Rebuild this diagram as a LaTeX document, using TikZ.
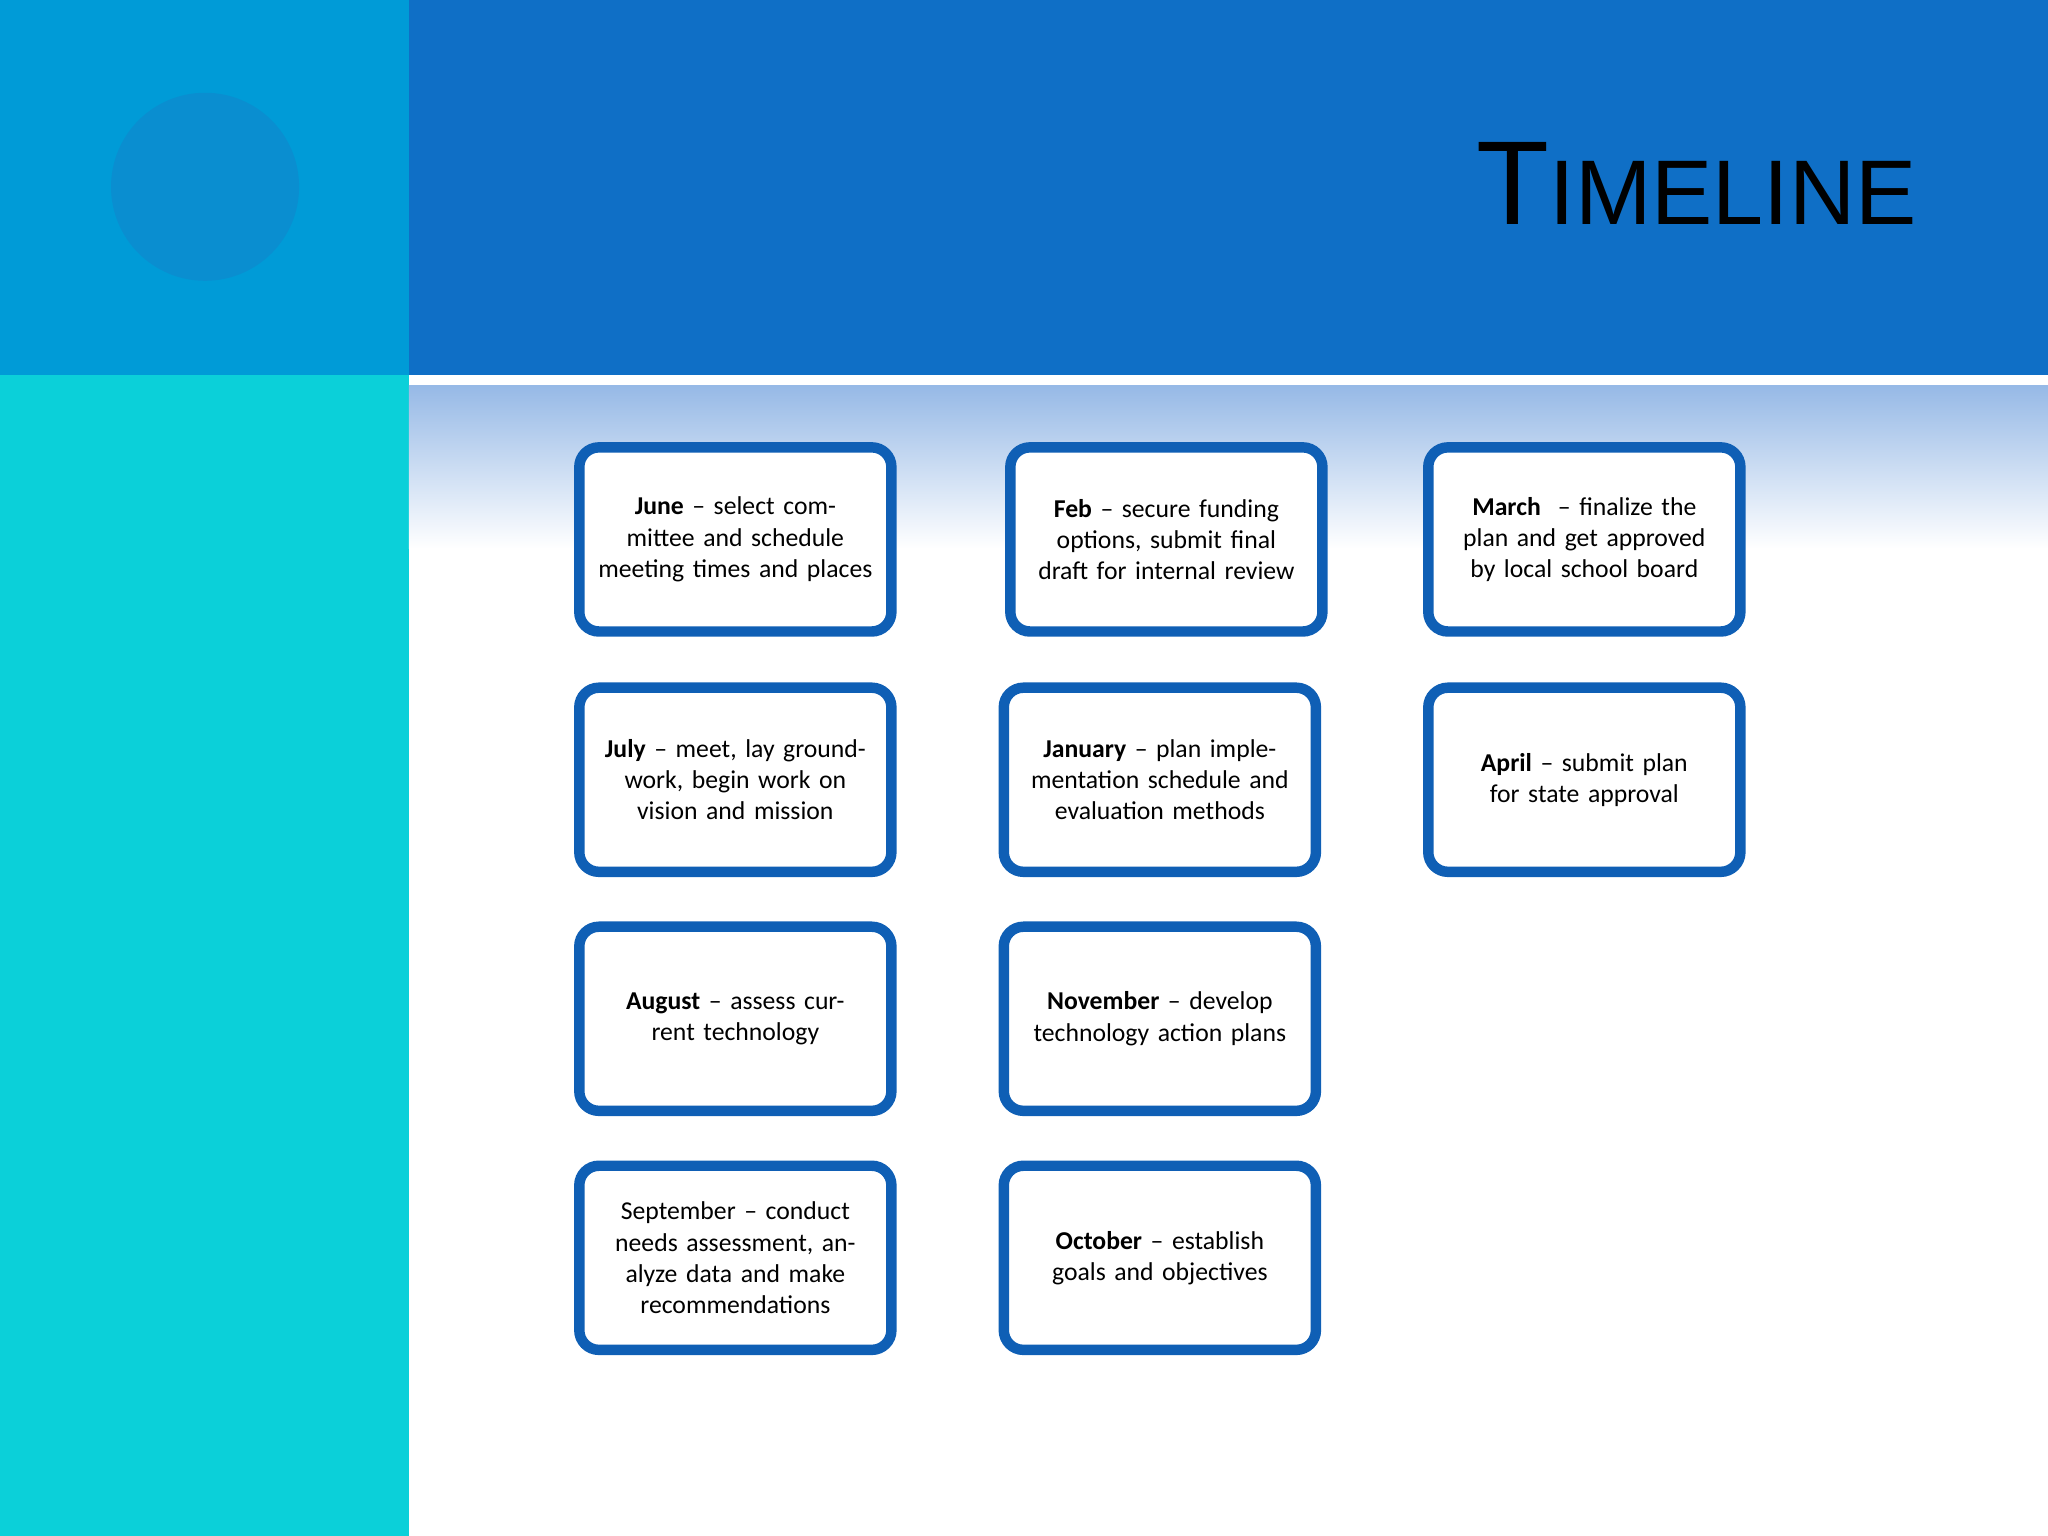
\documentclass[tikz,border=0pt]{standalone}
\usepackage{fontspec}
\setmainfont{Carlito}
\newfontfamily\titlefont{Liberation Sans}
\definecolor{leftA}{RGB}{0,155,215}
\definecolor{leftB}{RGB}{11,208,217}
\definecolor{topband}{RGB}{15,111,198}
\definecolor{circ}{RGB}{10,142,208}
\definecolor{boxline}{RGB}{15,95,181}
\definecolor{conn}{RGB}{169,185,228}
\definecolor{grad}{RGB}{150,185,230}
\begin{document}
\begin{tikzpicture}[x=0.02cm,y=-0.02cm,
  tbox/.style={draw=boxline,line width=0.16cm,rounded corners=0.3cm,fill=white,
    minimum width=4.78cm,minimum height=2.82cm,align=center,text width=4.5cm,
    font=\fontsize{11.2}{13.6}\selectfont},
  link/.style={draw=conn,line width=0.4cm}]
\useasboundingbox (0,0) rectangle (1568,1176);
\fill[leftB] (0,287) rectangle (313,1176);
\fill[leftA] (0,0) rectangle (313,287);
\fill[circ] (157,143) circle (1.44cm);
\fill[topband] (313,0) rectangle (1568,287);
\shade[top color=grad,bottom color=white] (313,295) rectangle (1568,420);
\node[anchor=base east,inner sep=0] (title) at (1468,172)
  {\titlefont\fontsize{52}{52}\selectfont T\fontsize{40}{40}\selectfont IMELINE};
% boxes
\node[tbox] (jun) at (563,413) {\textbf{June} -- select committee and schedule meeting times and places};
\node[tbox] (jul) at (563,597) {\textbf{July} -- meet, lay groundwork, begin work on vision and mission};
\node[tbox] (aug) at (563,780) {\textbf{August} -- assess current technology\\[13pt]};
\node[tbox] (sep) at (563,963) {September -- conduct needs assessment, analyze data and make recommendations};
\node[tbox] (oct) at (888,963) {\textbf{October} -- establish goals and objectives};
\node[tbox] (nov) at (888,780) {\textbf{November} -- develop technology action plans\\[13pt]};
\node[tbox] (jan) at (888,597) {\textbf{January} -- plan implementation schedule and evaluation methods};
\node[tbox] (feb) at (893,413) {\textbf{Feb} -- secure funding options, submit final draft for internal review};
\node[tbox] (mar) at (1213,413) {\textbf{March}~~-- finalize the plan and get approved by local school board};
\node[tbox] (apr) at (1213,597) {\textbf{April} -- submit plan for state approval\\[26pt]};
% connectors
\begin{scope}[on background layer/.style={}]
\end{scope}
\end{tikzpicture}
\end{document}
